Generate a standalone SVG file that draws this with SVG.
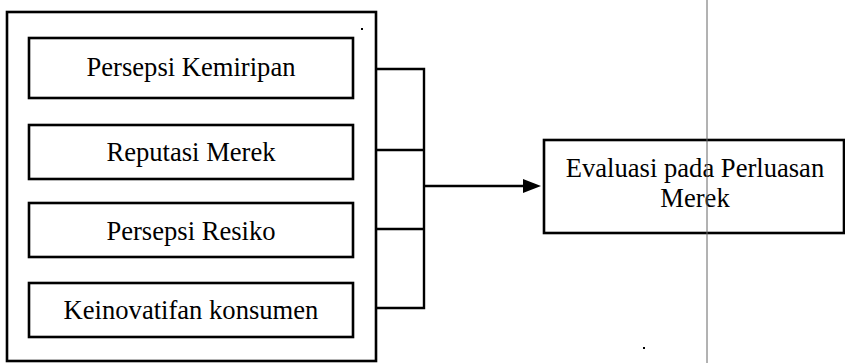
<svg xmlns="http://www.w3.org/2000/svg" width="845" height="363" viewBox="0 0 845 363">
<style>
.box{fill:#fff;stroke:#000;stroke-width:2.6}
.lbl{font-family:"Liberation Serif","Times New Roman",serif;font-size:26.6px;fill:#000;text-anchor:middle}
.con{fill:none;stroke:#000;stroke-width:2.4}
</style>
<rect width="845" height="363" fill="#fff"/>
<g id="outer"><rect class="box" x="7" y="12" width="369" height="349"/></g>
<g id="n1"><rect class="box" x="29" y="38" width="324" height="60"/><text class="lbl" x="191" y="76">Persepsi Kemiripan</text></g>
<g id="n2"><rect class="box" x="29" y="125" width="324" height="54"/><text class="lbl" x="191" y="161">Reputasi Merek</text></g>
<g id="n3"><rect class="box" x="29" y="203" width="324" height="54"/><text class="lbl" x="191" y="240">Persepsi Resiko</text></g>
<g id="n4"><rect class="box" x="29" y="283" width="324" height="54"/><text class="lbl" x="191" y="319">Keinovatifan konsumen</text></g>
<g id="target"><rect class="box" x="544" y="140" width="300" height="93"/><text class="lbl" x="695" y="177">Evaluasi pada Perluasan</text><text class="lbl" x="695" y="207">Merek</text></g>
<g id="connectors">
<path class="con" d="M376 69 H424 V308 H376 M376 150 H424 M376 229 H424"/>
<path class="con" d="M424 186 H526" stroke-width="3"/>
<polygon points="541,186 523,179 523,193" fill="#000"/>
</g>
<line x1="707" y1="0" x2="707" y2="363" stroke="#666" stroke-width="1"/>
<rect x="361" y="28" width="2" height="2" fill="#000"/>
<rect x="643" y="347" width="2" height="2" fill="#000"/>
</svg>
